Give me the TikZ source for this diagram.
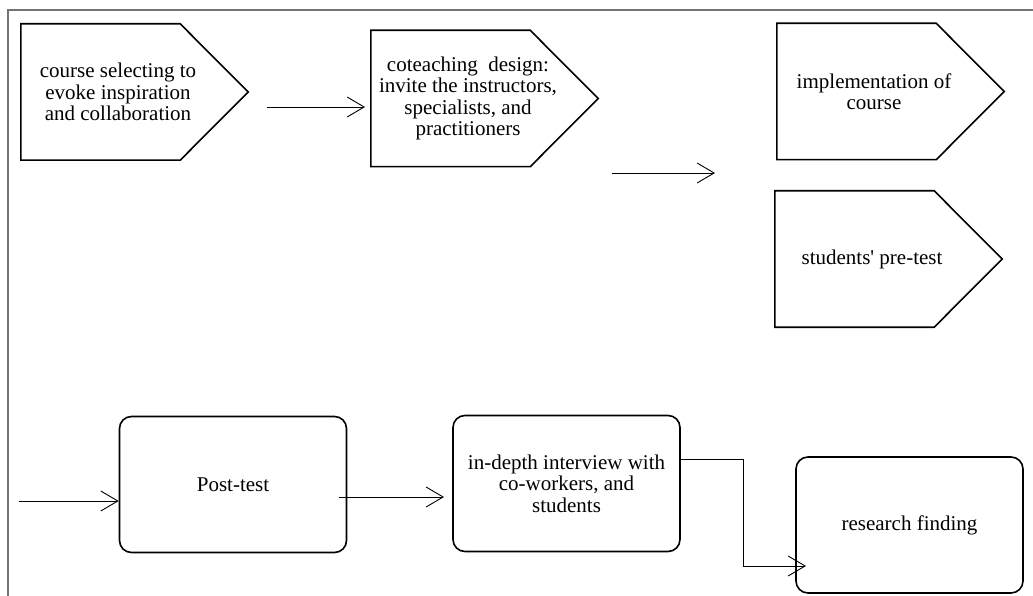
\documentclass[tikz,border=0pt]{standalone}
\usepackage{fontspec}
\setmainfont{Liberation Serif}[Ligatures=TeXOff]
\usepackage{tikz}
\usetikzlibrary{shapes,arrows.meta}
\tikzset{
  pentagon/.style = {rectangle, minimum width=194pt, minimum height=136pt, inner sep=2pt, align=center},
  roundbox/.style = {draw, line width=1.6pt, rectangle, rounded corners=12pt, minimum width=227pt, minimum height=136pt, align=center},
  flow/.style     = {->, line width=0.9pt},
  frame/.style    = {draw=black!55, line width=1.8pt}
}

\begin{document}
\begin{tikzpicture}[x=1pt, y=-1pt, >={Straight Barb[length=17pt, width=20pt]},
  font=\fontsize{21}{21.5}\selectfont]
\useasboundingbox (0,0) rectangle (1033,596);

% Frame
\draw[frame] (1033,10) -- (8,10) -- (8,596);

% Top row
\node [pentagon] (select) at (118,92) {course selecting to\\evoke inspiration\\and collaboration};
\node [pentagon] (design) at (468,98.5) {coteaching\ \ design:\\invite the instructors,\\specialists, and\\practitioners};
\node [pentagon] (implement) at (874,91.5) {implementation of\\course};
\node [pentagon] (pretest) at (872,259) {students' pre-test};
\foreach \n in {select, design, implement, pretest}
  \draw[line width=1.6pt] (\n.north west) -- ([xshift=-35pt]\n.north east) -- ([xshift=33pt]\n.east)
    -- ([xshift=-35pt]\n.south east) -- (\n.south west) -- cycle;

% Bottom row
\node [roundbox] (posttest) at (233,484.5) {Post-test};
\node [roundbox] (interview) at (566.5,483.5) {in-depth interview with\\co-workers, and\\students};
\node [roundbox] (finding) at (909.5,525) {research finding};

% Free arrow ends
\coordinate (a1) at (267,107);
\coordinate (b1) at (365,107);
\coordinate (a2) at (612,173);
\coordinate (b2) at (715,173);
\coordinate (a3) at (19,501);
\coordinate (a4) at (339,497);
\coordinate (b4) at (444,497);
\coordinate (b5) at (806,566);

% Connections
\draw[flow] (a1) -- (b1);
\draw[flow] (a2) -- (b2);
\draw[flow] (a3) -- (a3 -| posttest.west);
\draw[flow] (a4) -- (b4);
\draw[flow] ([yshift=24.5pt]interview.east) -- ++(63,0) |- (b5);

\end{tikzpicture}
\end{document}
